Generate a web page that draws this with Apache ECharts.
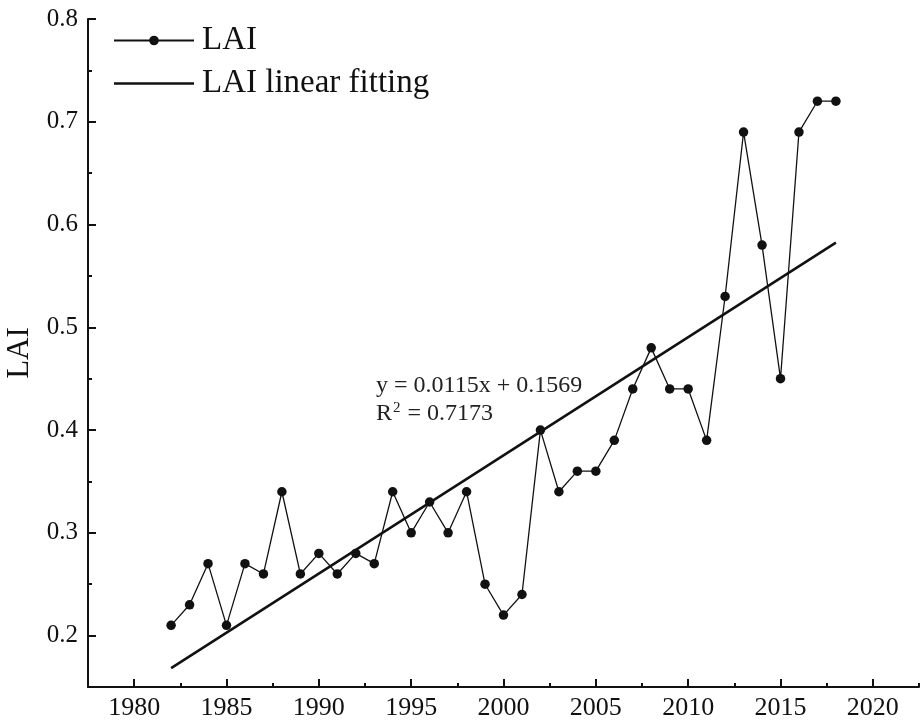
<!DOCTYPE html>
<html>
<head>
<meta charset="utf-8">
<title>LAI 1982–2018</title>
<script src="https://cdn.jsdelivr.net/npm/echarts@6/dist/echarts.min.js"></script>
<style>
  html, body { margin: 0; padding: 0; background: #fff; }
  #chart { width: 921px; height: 724px; }
</style>
</head>
<body>
<div id="chart"></div>
<script>
// Annual mean leaf area index
const years = [1982, 1983, 1984, 1985, 1986, 1987, 1988, 1989, 1990, 1991,
               1992, 1993, 1994, 1995, 1996, 1997, 1998, 1999, 2000, 2001,
               2002, 2003, 2004, 2005, 2006, 2007, 2008, 2009, 2010, 2011,
               2012, 2013, 2014, 2015, 2016, 2017, 2018];
const laiValues = [0.21, 0.23, 0.27, 0.21, 0.27, 0.26, 0.34, 0.26, 0.28, 0.26,
                   0.28, 0.27, 0.34, 0.30, 0.33, 0.30, 0.34, 0.25, 0.22, 0.24,
                   0.40, 0.34, 0.36, 0.36, 0.39, 0.44, 0.48, 0.44, 0.44, 0.39,
                   0.53, 0.69, 0.58, 0.45, 0.69, 0.72, 0.72];

// Linear trend, x = year index starting at 1 for 1982
const fitSlope = 0.0115;
const fitIntercept = 0.1569;
const fitR2 = 0.7173;

// Axis ticks
const xMajorTicks = [1980, 1985, 1990, 1995, 2000, 2005, 2010, 2015, 2020];
const xMinorTicks = [1982.5, 1987.5, 1992.5, 1997.5, 2002.5, 2007.5, 2012.5, 2017.5, 2022.5];
const yMajorTicks = [0.2, 0.3, 0.4, 0.5, 0.6, 0.7, 0.8];
const yMinorTicks = [0.25, 0.35, 0.45, 0.55, 0.65, 0.75];

const laiData = years.map((y, i) => [y, laiValues[i]]);
const fitYears = [years[0], years[years.length - 1]];
const fitData = fitYears.map(y => [y, fitSlope * (y - years[0] + 1) + fitIntercept]);

const FONT = '"Liberation Serif", "Times New Roman", serif';
const INK = '#111';

const chart = echarts.init(document.getElementById('chart'), null, { renderer: 'canvas' });

const baseAxisLine = { show: true, lineStyle: { color: INK, width: 2 } };

chart.setOption({
  animation: false,
  backgroundColor: '#fff',
  grid: { left: 88, right: 2, top: 19, bottom: 37, containLabel: false, outerBoundsMode: 'none' },
  legend: {
    orient: 'vertical',
    left: 108,
    top: 19,
    itemWidth: 80,
    itemHeight: 12,
    itemGap: 10,
    textStyle: { fontFamily: FONT, fontSize: 33, color: INK, padding: [0, 0, 0, 3] },
    data: [
      { name: 'LAI' },
      { name: 'LAI linear fitting', icon: 'path://M0,0H100V3H0Z' }
    ]
  },
  xAxis: [
    {
      type: 'value', min: 1977.5, max: 2022.5,
      axisLine: baseAxisLine,
      splitLine: { show: false },
      axisTick: { show: true, inside: true, length: 8, customValues: xMajorTicks,
                  lineStyle: { color: INK, width: 2 } },
      axisLabel: { customValues: xMajorTicks, fontFamily: FONT, fontSize: 26, color: INK,
                   margin: 8, formatter: v => String(v) }
    },
    {
      type: 'value', min: 1977.5, max: 2022.5, position: 'bottom',
      axisLine: { show: false },
      splitLine: { show: false },
      axisTick: { show: true, inside: true, length: 4, customValues: xMinorTicks,
                  lineStyle: { color: INK, width: 2 } },
      axisLabel: { show: false }
    }
  ],
  yAxis: [
    {
      type: 'value', min: 0.15, max: 0.8,
      name: 'LAI', nameLocation: 'middle', nameGap: 52, nameRotate: 90,
      nameTextStyle: { fontFamily: FONT, fontSize: 31, color: INK },
      axisLine: baseAxisLine,
      splitLine: { show: false },
      axisTick: { show: true, inside: true, length: 8, customValues: yMajorTicks,
                  lineStyle: { color: INK, width: 2 } },
      axisLabel: { customValues: yMajorTicks, fontFamily: FONT, fontSize: 25, color: INK,
                   margin: 10, formatter: v => v.toFixed(1) }
    },
    {
      type: 'value', min: 0.15, max: 0.8, position: 'left',
      axisLine: { show: false },
      splitLine: { show: false },
      axisTick: { show: true, inside: true, length: 4, customValues: yMinorTicks,
                  lineStyle: { color: INK, width: 2 } },
      axisLabel: { show: false }
    }
  ],
  series: [
    {
      name: 'LAI', type: 'line', xAxisIndex: 0, yAxisIndex: 0,
      data: laiData,
      symbol: 'circle', symbolSize: 9.5,
      itemStyle: { color: INK },
      lineStyle: { color: INK, width: 1.3 },
      z: 3
    },
    {
      name: 'LAI linear fitting', type: 'line', xAxisIndex: 0, yAxisIndex: 0,
      data: fitData,
      symbol: 'none', showSymbol: false,
      itemStyle: { color: INK },
      lineStyle: { color: INK, width: 2.5 },
      z: 2
    }
  ],
  graphic: [
    {
      type: 'text', left: 376, top: 374,
      style: {
        text: 'y = ' + fitSlope.toFixed(4) + 'x + ' + fitIntercept.toFixed(4),
        font: '24px ' + FONT, fill: '#222'
      }
    },
    {
      type: 'text', left: 376, top: 401,
      style: {
        text: 'R{sup|2} = ' + fitR2.toFixed(4),
        font: '24px ' + FONT, fill: '#222',
        rich: { sup: { fontSize: 15, fontFamily: FONT, fill: '#222', verticalAlign: 'top', padding: [0, 1, 10, 1] } }
      }
    }
  ]
});
</script>
</body>
</html>
